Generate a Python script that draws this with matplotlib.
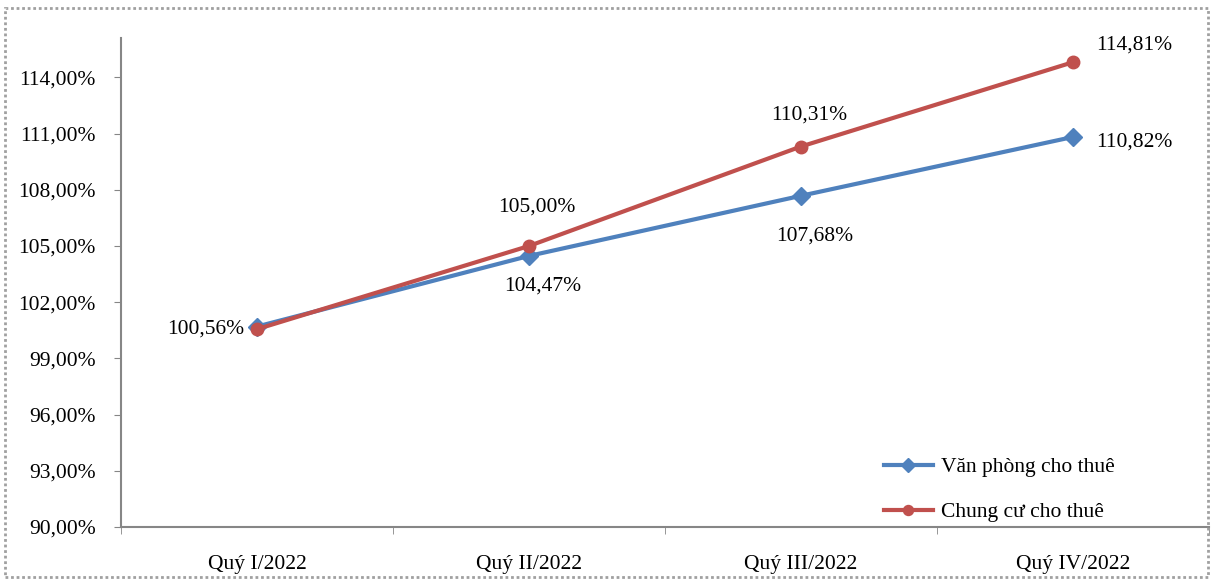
import matplotlib.pyplot as plt
from matplotlib.patches import Rectangle
from matplotlib.ticker import FuncFormatter, FixedLocator

plt.rcParams['font.family'] = ['Liberation Serif', 'DejaVu Serif']

# Quarterly index values (%)
quarters = ["Quý I/2022", "Quý II/2022", "Quý III/2022", "Quý IV/2022"]
van_phong = [100.70, 104.47, 107.68, 110.82]
chung_cu = [100.56, 105.00, 110.31, 114.81]

# text offsets (points) for value labels
vp_offsets = [None, (10, -22), (10, -29), (44, -4)]
cc_offsets = [(-37, 0), (6, 28), (6, 23), (44, 12)]

blue = "#4F81BD"
red = "#C0504D"
grey = "#868686"

fig = plt.figure(figsize=(12.12, 5.79), dpi=100)
ax = fig.add_axes([0.0998, 0.0898, 0.8977, 0.8445])

x = list(range(len(quarters)))
ax.plot(x, van_phong, color=blue, lw=3, marker="D", ms=9, label="Văn phòng cho thuê")
ax.plot(x, chung_cu, color=red, lw=3, marker="o", ms=9, label="Chung cư cho thuê")

def fmt(v):
    return f"{v:.2f}%".replace(".", ",")

for i, v in enumerate(van_phong):
    if vp_offsets[i] is None:
        continue
    ax.annotate(fmt(v), (i, v), xytext=vp_offsets[i], textcoords="offset points",
                ha="center", va="center", fontsize=15.5)
for i, v in enumerate(chung_cu):
    ax.annotate(fmt(v), (i, v), xytext=cc_offsets[i], textcoords="offset points",
                ha="center", va="center", fontsize=15.5)

ax.set_ylim(90, 116.1)
ax.set_yticks([90, 93, 96, 99, 102, 105, 108, 111, 114])
ax.yaxis.set_major_formatter(FuncFormatter(lambda v, p: fmt(v)))
ax.set_xlim(-0.5, 3.5)
ax.set_xticks(x)
ax.set_xticklabels(quarters)
ax.xaxis.set_minor_locator(FixedLocator([-0.5, 0.5, 1.5, 2.5, 3.5]))
ax.tick_params(axis="x", which="major", length=0, pad=20, labelsize=15.5)
ax.tick_params(axis="x", which="minor", length=5, color=grey, direction="out")
ax.tick_params(axis="y", length=5, color=grey, direction="out", pad=13, labelsize=15.5)

for s in ["top", "right"]:
    ax.spines[s].set_visible(False)
for s in ["left", "bottom"]:
    ax.spines[s].set_color(grey)
    ax.spines[s].set_linewidth(1.5)

ax.legend(loc="lower right", bbox_to_anchor=(0.931, -0.03), frameon=False, fontsize=15.5,
          handlelength=2.3, labelspacing=1.15, handletextpad=0.35, markerscale=0.8)

# dotted frame around the chart
fig.patches.append(Rectangle((0.004, 0.003), 0.993, 0.984, transform=fig.transFigure,
                             fill=False, ls=(0, (1, 1)), lw=2, edgecolor="#a0a0a0"))

fig.savefig("out.png", dpi=100)
